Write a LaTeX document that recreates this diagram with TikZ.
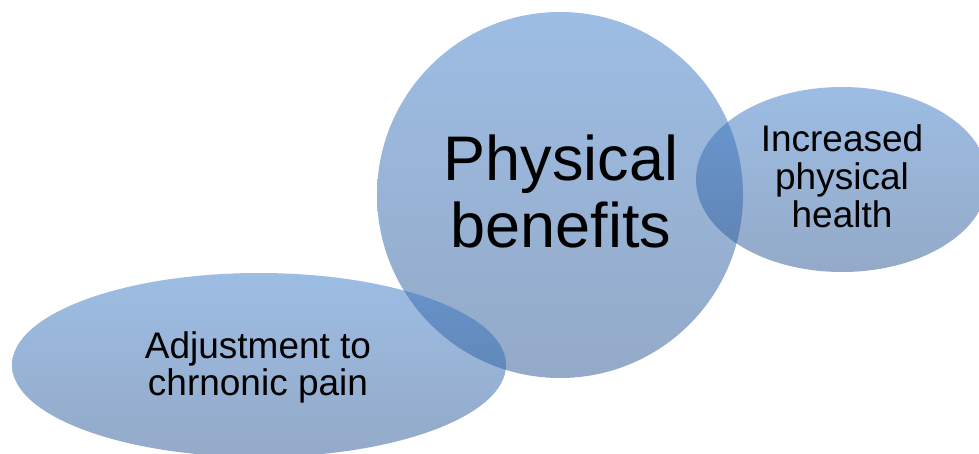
\documentclass[tikz,border=0pt]{standalone}
\usepackage{fontspec}
\setmainfont{Liberation Sans}
\usetikzlibrary{shapes.geometric}
\definecolor{bubbletop}{RGB}{59,123,201}
\definecolor{bubblebottom}{RGB}{41,85,145}
\tikzset{
  bubble/.style={inner sep=0pt, outer sep=0pt, draw=none,
    top color=bubbletop, bottom color=bubblebottom, fill opacity=0.5},
  bubbletext/.style={inner sep=0pt, align=center, text=black}
}
\begin{document}
\begin{tikzpicture}[x=1pt, y=-1pt]
  \useasboundingbox (0,0) rectangle (979,453);
  \clip (0,0) rectangle (979,453);
  % translucent overlapping shapes
  \node[bubble, circle, minimum size=366pt] (pb) at (560,195) {};
  \node[bubble, ellipse, minimum width=292pt, minimum height=185pt] (ph) at (842,179.5) {};
  \node[bubble, ellipse, minimum width=494pt, minimum height=184pt] (cp) at (259,365) {};
  % labels
  \node[bubbletext, font=\fontsize{63}{66.5}\selectfont] (pbt) at (561,191.5) {Physical\\benefits};
  \node[bubbletext, font=\fontsize{37}{38}\selectfont] (pht) at (842,176) {Increased\\physical\\health};
  \node[bubbletext, font=\fontsize{37}{37}\selectfont] (cpt) at (258,367.5) {Adjustment to\\chrnonic pain};
\end{tikzpicture}
\end{document}
